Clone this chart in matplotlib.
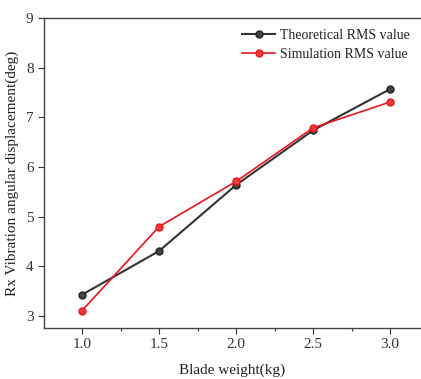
import matplotlib
matplotlib.use("Agg")
import matplotlib.pyplot as plt
from matplotlib.ticker import MultipleLocator

# Data
blade_weight = [1.0, 1.5, 2.0, 2.5, 3.0]
theoretical_rms = [3.43, 4.31, 5.64, 6.74, 7.57]
simulation_rms = [3.11, 4.80, 5.71, 6.79, 7.31]

plt.rcParams["font.family"] = ["Liberation Serif", "DejaVu Serif"]

fig = plt.figure(figsize=(4.21, 3.79), dpi=100)
ax = fig.add_axes([44 / 421, 51 / 379, 377 / 421, 310 / 379])

ax.plot(blade_weight, theoretical_rms, color="#333333", linewidth=1.5,
        marker="o", markersize=5, markerfacecolor="#444444",
        markeredgecolor="#222222", label="Theoretical RMS value", zorder=3)
ax.plot(blade_weight, simulation_rms, color="#e8161b", linewidth=1.2,
        marker="o", markersize=5, markerfacecolor="#f03a3f",
        markeredgecolor="#e8161b", label="Simulation RMS value", zorder=4)

ax.set_xlim(0.753, 3.2)
ax.set_ylim(2.76, 9)
ax.xaxis.set_major_locator(MultipleLocator(0.5))
ax.xaxis.set_minor_locator(MultipleLocator(0.25))
ax.yaxis.set_major_locator(MultipleLocator(1))
ax.tick_params(direction="out", labelsize=11, length=4, width=0.8,
               colors="#333333")
ax.tick_params(which="minor", direction="out", length=2.5, width=0.8,
               colors="#333333")
ax.spines["right"].set_visible(False)
for s in ("left", "bottom", "top"):
    ax.spines[s].set_color("#444444")
    ax.spines[s].set_linewidth(1.0)
ax.set_xticks([1.0, 1.5, 2.0, 2.5, 3.0])
ax.set_xticklabels(["1.0", "1.5", "2.0", "2.5", "3.0"])

ax.set_xlabel("Blade weight(kg)", fontsize=11, labelpad=9, color="#222222")
ax.set_ylabel("Rx Vibration angular displacement(deg)", fontsize=11,
              labelpad=5, color="#222222")

leg = ax.legend(loc="upper right", frameon=False, fontsize=10,
                handlelength=2.4, handletextpad=0.35, labelspacing=0.4,
                borderaxespad=0.4)
for t in leg.get_texts():
    t.set_color("#222222")

fig.savefig("out.png", dpi=100)
